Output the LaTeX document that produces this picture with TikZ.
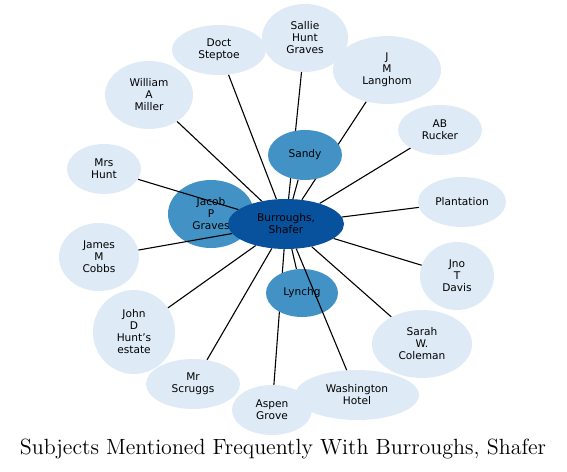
\documentclass[tikz,border=0pt]{standalone}
\usepackage{fontspec}
\setsansfont{DejaVu Sans}
\newfontfamily\titlefont{lmroman12-regular}[Extension=.otf]
\usetikzlibrary{shapes.geometric}
\definecolor{hubblue}{HTML}{08519C}
\definecolor{midblue}{HTML}{4292C6}
\definecolor{paleblue}{HTML}{DEEBF7}
\pgfdeclarelayer{back}
\pgfdeclarelayer{mid}
\pgfsetlayers{back,mid,main}

\begin{document}
\begin{tikzpicture}[
    x=1pt, y=-1pt,
    subj/.style={ellipse, draw=none, inner sep=0pt, align=center,
                 font=\sffamily\fontsize{10.6}{12}\selectfont},
    outer/.style={subj, fill=paleblue},
    inner/.style={subj, fill=midblue},
    hub/.style={subj, fill=hubblue, minimum width=116pt, minimum height=50pt},
    link/.style={line width=1.1pt, black}
  ]
  \useasboundingbox (0,0) rectangle (567,471);

  \node[outer, minimum width=94pt,  minimum height=50pt] (doct)   at (219,50)  {Doct\\Steptoe};
  \node[outer, minimum width=86pt,  minimum height=68pt] (sallie) at (305,38)  {Sallie\\Hunt\\Graves};
  \node[outer, minimum width=108pt, minimum height=68pt] (lang)   at (387,70)  {J\\M\\Langhom};
  \node[outer, minimum width=88pt,  minimum height=68pt] (miller) at (149,95)  {William\\A\\Miller};
  \node[outer, minimum width=84pt,  minimum height=50pt] (rucker) at (440,130) {AB\\Rucker};
  \node[outer, minimum width=74pt,  minimum height=50pt] (mrs)    at (104,169) {Mrs\\Hunt};
  \node[outer, minimum width=88pt,  minimum height=50pt] (plant)  at (462,202) {Plantation};
  \node[outer, minimum width=80pt,  minimum height=68pt] (cobbs)  at (99,257)  {James\\M\\Cobbs};
  \node[outer, minimum width=74pt,  minimum height=68pt] (davis)  at (457,276) {Jno\\T\\Davis};
  \node[outer, minimum width=82pt,  minimum height=84pt] (estate) at (134,332) {John\\D\\Hunt's\\estate};
  \node[outer, minimum width=100pt, minimum height=68pt] (coleman) at (422,344) {Sarah\\W.\\Coleman};
  \node[outer, minimum width=94pt,  minimum height=50pt] (scruggs) at (193,384) {Mr\\Scruggs};
  \node[outer, minimum width=80pt,  minimum height=50pt] (aspen)  at (272,410) {Aspen\\Grove};
  \node[outer, minimum width=124pt, minimum height=50pt] (wash)   at (357,395) {Washington\\Hotel};

  \node[hub] (shafer) at (286,224) {Burroughs,\\Shafer};
  \begin{pgfonlayer}{mid}
    \node[inner, minimum width=86pt, minimum height=68pt] (jacob) at (211,214) {Jacob\\P\\Graves};
  \end{pgfonlayer}
  \node[inner, minimum width=74pt, minimum height=50pt] (sandy)  at (305,155) {Sandy};
  \node[inner, minimum width=72pt, minimum height=48pt] (lynchg) at (302,293) {Lynchg};

  \begin{pgfonlayer}{back}
    \draw[link] (shafer.center) -- (jacob.center);
  \end{pgfonlayer}
  \begin{pgfonlayer}{mid}
    \foreach \n in {doct, sallie, lang, miller, rucker, mrs, plant, cobbs,
                    davis, estate, coleman, scruggs, aspen, sandy, lynchg}
      \draw[link] (shafer) -- (\n);
  \end{pgfonlayer}
  \draw[link] (shafer) -- (wash);

  \node[font=\titlefont\fontsize{22}{26}\selectfont] (title) at (283,449)
    {Subjects Mentioned Frequently With Burroughs, Shafer};
\end{tikzpicture}
\end{document}
